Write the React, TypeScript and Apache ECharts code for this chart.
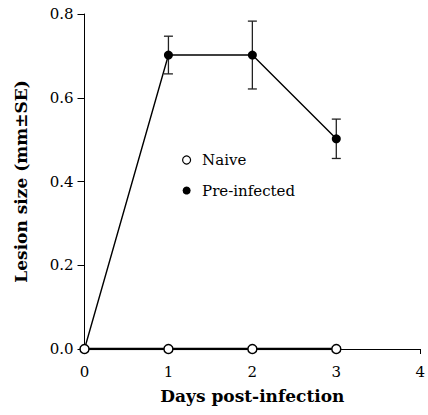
import React, { useEffect, useRef } from "react";
import * as echarts from "echarts";

const days = [0, 1, 2, 3];
const naive = [0, 0, 0, 0];
const preInfected = [0, 0.702, 0.702, 0.502];
const preSE = [0, 0.045, 0.081, 0.047];
const xTicks = [0, 1, 2, 3, 4];
const yTicks = [0, 0.2, 0.4, 0.6, 0.8];

const FONT = "'DejaVu Serif', serif";

export default function App() {
  const ref = useRef<HTMLDivElement>(null);
  useEffect(() => {
    if (!ref.current) return;
    const chart = echarts.init(ref.current, undefined, { renderer: "svg" });
    const errData = days
      .map((d, i) => [d, preInfected[i], preInfected[i] - preSE[i], preInfected[i] + preSE[i]])
      .filter((r, i) => preSE[i] > 0);
    chart.setOption({
      animation: false,
      backgroundColor: "#fff",
      textStyle: { fontFamily: FONT },
      grid: { left: 84.5, right: 7, top: 14, bottom: 66 },
      legend: {
        left: 177,
        top: 147.5,
        orient: "vertical",
        itemWidth: 21,
        itemHeight: 8,
        itemGap: 15.5,
        icon: "circle",
        textStyle: { fontFamily: FONT, fontSize: 15, color: "#000" },
        data: [
          { name: "Naive", itemStyle: { color: "#fff", borderColor: "#000", borderWidth: 1.2 } },
          { name: "Pre-infected", itemStyle: { color: "#000" } },
        ],
      },
      xAxis: {
        type: "value",
        min: xTicks[0],
        max: xTicks[xTicks.length - 1],
        interval: 1,
        name: "Days post-infection",
        nameLocation: "middle",
        nameGap: 38,
        nameTextStyle: { fontFamily: FONT, fontSize: 17, fontWeight: "bold", color: "#000" },
        axisLine: { show: true, lineStyle: { color: "#000", width: 1 } },
        axisTick: { show: true, length: 5, lineStyle: { color: "#000" } },
        axisLabel: { margin: 15, fontFamily: FONT, fontSize: 15, color: "#000" },
        splitLine: { show: false },
      },
      yAxis: {
        type: "value",
        min: yTicks[0],
        max: yTicks[yTicks.length - 1],
        interval: 0.2,
        name: "Lesion size (mm±SE)",
        nameLocation: "middle",
        nameGap: 55,
        nameTextStyle: { fontFamily: FONT, fontSize: 17, fontWeight: "bold", color: "#000" },
        axisLine: { show: true, lineStyle: { color: "#000", width: 1 } },
        axisTick: { show: true, length: 7, lineStyle: { color: "#000" } },
        axisLabel: {
          margin: 11,
          fontFamily: FONT,
          fontSize: 15,
          color: "#000",
          formatter: (v: number) => v.toFixed(1),
        },
        splitLine: { show: false },
      },
      series: [
        {
          type: "custom",
          z: 2,
          silent: true,
          data: errData,
          renderItem: (params: any, api: any) => {
            const x = api.value(0);
            const lo = api.coord([x, api.value(2)]);
            const hi = api.coord([x, api.value(3)]);
            const h = 4.5;
            const style = { stroke: "#222", lineWidth: 1.3 };
            return {
              type: "group",
              children: [
                { type: "line", shape: { x1: lo[0], y1: lo[1], x2: hi[0], y2: hi[1] }, style },
                { type: "line", shape: { x1: lo[0] - h, y1: lo[1], x2: lo[0] + h, y2: lo[1] }, style },
                { type: "line", shape: { x1: hi[0] - h, y1: hi[1], x2: hi[0] + h, y2: hi[1] }, style },
              ],
            };
          },
        },
        {
          name: "Pre-infected",
          type: "line",
          z: 3,
          data: days.map((d, i) => [d, preInfected[i]]),
          symbol: "circle",
          symbolSize: 9,
          lineStyle: { color: "#000", width: 1.4 },
          itemStyle: { color: "#000" },
        },
        {
          name: "Naive",
          type: "line",
          z: 4,
          data: days.map((d, i) => [d, naive[i]]),
          symbol: "circle",
          symbolSize: 9,
          showAllSymbol: true,
          lineStyle: { color: "#000", width: 2.5 },
          itemStyle: { color: "#fff", borderColor: "#000", borderWidth: 1.5 },
        },
      ],
    });
    return () => chart.dispose();
  }, []);
  return <div ref={ref} style={{ width: 428, height: 415, position: "absolute", left: 0, top: 0 }} />;
}
